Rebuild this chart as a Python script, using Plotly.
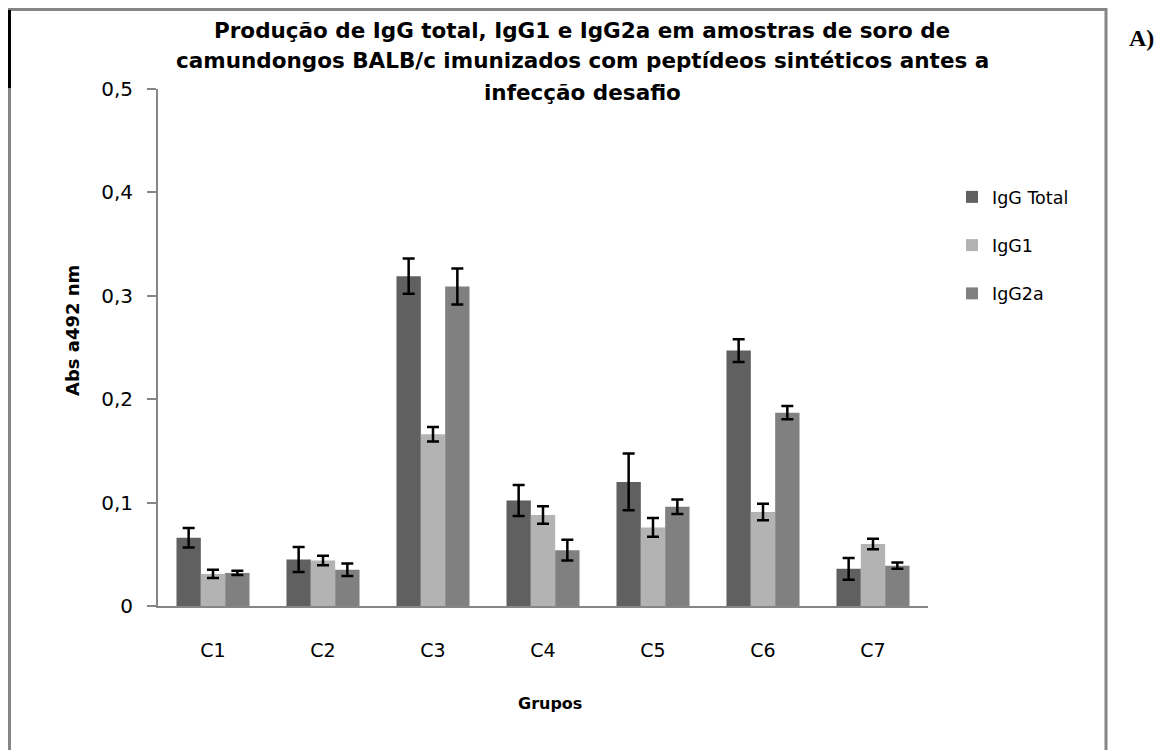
import plotly.graph_objects as go

categories = ["C1", "C2", "C3", "C4", "C5", "C6", "C7"]
series_names = ["IgG Total", "IgG1", "IgG2a"]
igg_total = [0.066, 0.045, 0.319, 0.102, 0.120, 0.247, 0.036]
igg_total_err = [0.0095, 0.012, 0.017, 0.015, 0.0275, 0.011, 0.0105]
igg1 = [0.031, 0.044, 0.166, 0.088, 0.076, 0.091, 0.060]
igg1_err = [0.004, 0.0045, 0.007, 0.0085, 0.009, 0.008, 0.005]
igg2a = [0.032, 0.035, 0.309, 0.054, 0.096, 0.187, 0.039]
igg2a_err = [0.002, 0.006, 0.0175, 0.010, 0.007, 0.0065, 0.003]
y_ticks = [0, 0.1, 0.2, 0.3, 0.4, 0.5]
title_lines = [
    "Produção de IgG total, IgG1 e IgG2a em amostras de soro de",
    "camundongos BALB/c imunizados com peptídeos sintéticos antes a",
    "infecção desafio",
]

colors = ["#606060", "#b3b3b3", "#808080"]
values = [igg_total, igg1, igg2a]
errors = [igg_total_err, igg1_err, igg2a_err]

FONT = "DejaVu Sans"
OFF = 8  # page body margin

fig = go.Figure()
for i, name in enumerate(series_names):
    fig.add_trace(go.Bar(
        x=categories, y=values[i], name=name,
        marker=dict(color=colors[i], line=dict(width=0)),
        error_y=dict(type="data", array=errors[i], visible=True,
                     color="black", thickness=2.5, width=6),
        legendgroup=name,
    ))

W, H = 1159, 742
L = 158 - OFF
T = 89 - OFF
R = W - (928 - OFF)
B = H - (606 - OFF)
pw, ph = W - L - R, H - T - B


def px_x(p):
    return (p - OFF - L) / pw


def px_y(p):
    return ((606 - OFF) - (p - OFF)) / ph


fig.update_layout(
    width=W, height=H,
    margin=dict(l=L, r=R, t=T, b=B),
    paper_bgcolor="white", plot_bgcolor="white",
    separators=",.",
    barmode="group", bargap=0.336, bargroupgap=0,
    font=dict(family=FONT, color="black"),
    showlegend=True,
    legend=dict(x=px_x(952), y=px_y(179), xanchor="left", yanchor="top",
                font=dict(size=17.5, family=FONT), traceorder="grouped",
                tracegroupgap=22.5, bgcolor="rgba(0,0,0,0)"),
    xaxis=dict(showline=True, linecolor="#868686", linewidth=2,
               ticks="", tickfont=dict(size=19, family=FONT),
               ticklabelstandoff=26,
               showgrid=False, zeroline=False),
    yaxis=dict(range=[0, 0.5], tickvals=y_ticks, showline=True, linecolor="#868686",
               linewidth=2, ticks="outside", ticklen=9, tickcolor="#868686", tickwidth=1.5,
               tickfont=dict(size=20, family=FONT), ticklabelstandoff=10,
               showgrid=False, zeroline=False),
)

title_y = [30, 61, 92]
for line, yy in zip(title_lines, title_y):
    fig.add_annotation(
        xref="paper", yref="paper", x=px_x(582), y=px_y(yy),
        xanchor="center", yanchor="middle", showarrow=False,
        text="<b>" + line + "</b>",
        font=dict(size=21.5, family=FONT, color="black"),
    )

fig.add_annotation(
    xref="paper", yref="paper", x=px_x(72), y=px_y(331),
    xanchor="center", yanchor="middle", showarrow=False, textangle=-90,
    text="<b>Abs a492 nm</b>", font=dict(size=18, family=FONT, color="black"),
)
fig.add_annotation(
    xref="paper", yref="paper", x=px_x(550), y=px_y(703),
    xanchor="center", yanchor="middle", showarrow=False,
    text="<b>Grupos</b>", font=dict(size=16, family=FONT, color="black"),
)
fig.add_annotation(
    xref="paper", yref="paper", x=px_x(1141), y=px_y(38),
    xanchor="center", yanchor="middle", showarrow=False,
    text="<b>A)</b>", font=dict(size=24, family="Liberation Serif", color="black"),
)

# frame around chart
fig.add_shape(type="rect", xref="paper", yref="paper",
              x0=px_x(OFF + 1.5), x1=px_x(1106), y0=px_y(780), y1=px_y(OFF + 1.5),
              line=dict(color="#868686", width=3), layer="below")
fig.add_shape(type="line", xref="paper", yref="paper",
              x0=px_x(OFF + 1.5), x1=px_x(OFF + 1.5), y0=px_y(OFF + 2), y1=px_y(88),
              line=dict(color="black", width=3))

fig.write_html("out.html")
